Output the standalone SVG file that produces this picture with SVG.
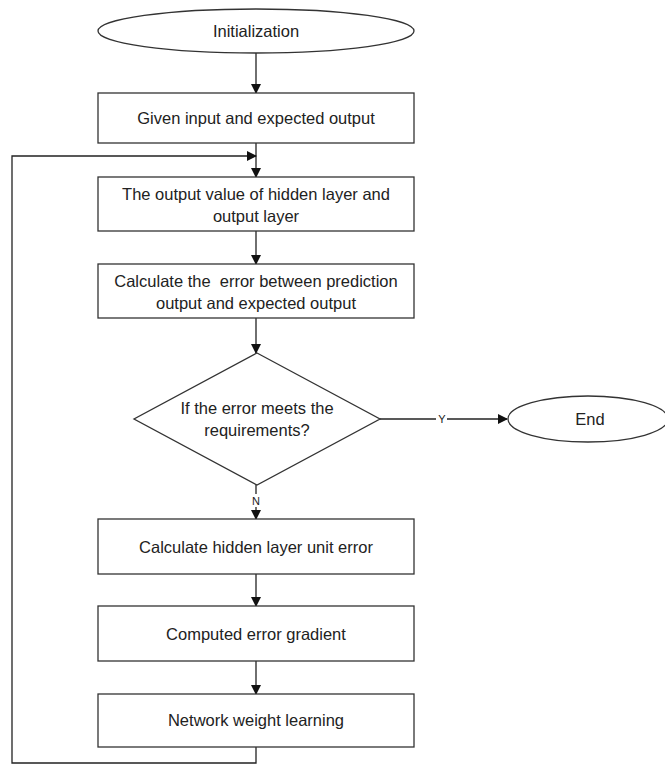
<svg xmlns="http://www.w3.org/2000/svg" width="665" height="766" viewBox="0 0 665 766">
<defs>
<marker id="ah" markerWidth="10" markerHeight="10" refX="9" refY="5" orient="auto" markerUnits="userSpaceOnUse">
<path d="M0,0 L10,5 L0,10 Z" fill="#111"/>
</marker>
<style>
.s{fill:#fff;stroke:#333;stroke-width:1.3}
.t{font-family:"Liberation Sans",Arial,sans-serif;font-size:16.5px;fill:#222;text-anchor:middle;dominant-baseline:central}
.c{fill:none;stroke:#222;stroke-width:1.3}
.l{font-family:"Liberation Sans",Arial,sans-serif;font-size:11px;fill:#222;text-anchor:middle;dominant-baseline:central}
</style>
</defs>
<rect width="665" height="766" fill="#fff"/>
<g id="connectors">
<line class="c" x1="256" y1="53" x2="256" y2="93" marker-end="url(#ah)"/>
<line class="c" x1="256" y1="143" x2="256" y2="177" marker-end="url(#ah)"/>
<line class="c" x1="256" y1="231" x2="256" y2="264" marker-end="url(#ah)"/>
<line class="c" x1="256" y1="318" x2="256" y2="353" marker-end="url(#ah)"/>
<line class="c" x1="380" y1="419" x2="507" y2="419" marker-end="url(#ah)"/>
<rect x="436" y="412" width="11" height="14" fill="#fff"/>
<text class="l" x="442" y="419">Y</text>
<line class="c" x1="256" y1="485" x2="256" y2="519" marker-end="url(#ah)"/>
<rect x="250" y="494" width="12" height="13" fill="#fff"/>
<text class="l" x="256" y="501">N</text>
<line class="c" x1="256" y1="574" x2="256" y2="606" marker-end="url(#ah)"/>
<line class="c" x1="256" y1="661" x2="256" y2="694" marker-end="url(#ah)"/>
<polyline class="c" points="256,747 256,763 12,763 12,156 256,156" marker-end="url(#ah)"/>
</g>
<g id="init"><ellipse class="s" cx="256" cy="31" rx="158" ry="22"/><text class="t" x="256" y="31">Initialization</text></g>
<g id="given"><rect class="s" x="98" y="93" width="316" height="50"/><text class="t" x="256" y="118">Given input and expected output</text></g>
<g id="hidden"><rect class="s" x="98" y="177" width="316" height="54"/><text class="t" x="256" y="194">The output value of hidden layer and</text><text class="t" x="256" y="216">output layer</text></g>
<g id="calc"><rect class="s" x="98" y="264" width="316" height="54"/><text class="t" x="256" y="281" style="white-space:pre">Calculate the  error between prediction</text><text class="t" x="256" y="303">output and expected output</text></g>
<g id="decision"><polygon class="s" points="257,353 380,419 257,485 134,419"/><text class="t" x="257" y="408">If the error meets the</text><text class="t" x="257" y="430">requirements?</text></g>
<g id="end"><ellipse class="s" cx="588" cy="419" rx="80" ry="23"/><text class="t" x="590" y="419">End</text></g>
<g id="unit"><rect class="s" x="98" y="519" width="316" height="55"/><text class="t" x="256" y="547">Calculate hidden layer unit error</text></g>
<g id="grad"><rect class="s" x="98" y="606" width="316" height="55"/><text class="t" x="256" y="634">Computed error gradient</text></g>
<g id="learn"><rect class="s" x="98" y="694" width="316" height="53"/><text class="t" x="256" y="720">Network weight learning</text></g>
</svg>
